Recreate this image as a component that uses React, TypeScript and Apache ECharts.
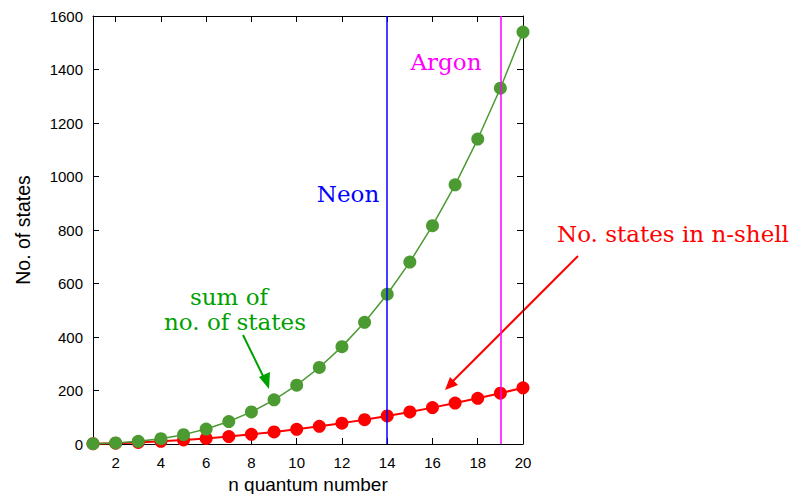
import React, { useEffect, useRef } from "react";
import * as echarts from "echarts";

const nValues = [1, 2, 3, 4, 5, 6, 7, 8, 9, 10, 11, 12, 13, 14, 15, 16, 17, 18, 19, 20];
const shellStates = [1, 3, 6, 10, 15, 21, 28, 36, 45, 55, 66, 78, 91, 105, 120, 136, 153, 171, 190, 210];
const sumStates = [1, 4, 10, 20, 35, 56, 84, 120, 165, 220, 286, 364, 455, 560, 680, 816, 969, 1140, 1330, 1540];
const xTicks = [2, 4, 6, 8, 10, 12, 14, 16, 18, 20];
const neonN = 14;
const argonN = 19;

const GREEN = "#4c9a32";
const RED = "#ff0000";
const SERIF = "'DejaVu Serif', 'Liberation Serif', serif";
const SANS = "'Liberation Sans', Arial, sans-serif";

export default function App() {
  const ref = useRef<HTMLDivElement>(null);
  useEffect(() => {
    if (!ref.current) return;
    const chart = echarts.init(ref.current, null, { renderer: "svg" });
    const xBase = {
      type: "value" as const,
      min: 1,
      max: 20,
      axisLine: { show: true, onZero: false, lineStyle: { color: "#000", width: 1 } },
      axisTick: { show: true, inside: true, length: 6, customValues: xTicks, lineStyle: { color: "#000" } },
      splitLine: { show: false },
    };
    const yBase = {
      type: "value" as const,
      min: 0,
      max: 1600,
      interval: 200,
      axisLine: { show: true, lineStyle: { color: "#000", width: 1 } },
      axisTick: { show: true, inside: true, length: 6, lineStyle: { color: "#000" } },
      splitLine: { show: false },
    };
    const txt = (text: string, x: number, y: number, fill: string) => ({
      type: "text",
      x,
      y,
      style: { text, fill, font: `23px ${SERIF}`, lineHeight: 23, textAlign: "center", textVerticalAlign: "middle" },
    });
    chart.setOption({
      animation: false,
      backgroundColor: "#fff",
      grid: { left: 93, right: 274, top: 16, bottom: 50, outerBoundsMode: "none", containLabel: false },
      xAxis: [
        {
          ...xBase,
          position: "bottom",
          name: "n quantum number",
          nameLocation: "middle",
          nameGap: 24,
          nameTextStyle: { fontFamily: SANS, fontSize: 19, lineHeight: 20, color: "#000", verticalAlign: "top" },
          axisLabel: { customValues: xTicks, fontFamily: SANS, fontSize: 15, color: "#000", margin: 11 },
        },
        { ...xBase, position: "top", axisLabel: { show: false } },
      ],
      yAxis: [
        {
          ...yBase,
          position: "left",
          name: "No. of states",
          nameLocation: "middle",
          nameGap: 60,
          nameTextStyle: { fontFamily: SANS, fontSize: 19.5, color: "#000" },
          axisLabel: { fontFamily: SANS, fontSize: 15, color: "#000", margin: 10, formatter: (v: number) => String(v) },
        },
        { ...yBase, position: "right", axisLabel: { show: false } },
      ],
      series: [
        {
          type: "line",
          data: nValues.map((n, i) => [n, shellStates[i]]),
          symbol: "circle",
          symbolSize: 13,
          lineStyle: { color: RED, width: 2 },
          itemStyle: { color: RED },
          z: 2,
        },
        {
          type: "line",
          data: nValues.map((n, i) => [n, sumStates[i]]),
          symbol: "circle",
          symbolSize: 13,
          lineStyle: { color: GREEN, width: 1.5 },
          itemStyle: { color: GREEN },
          z: 3,
        },
        {
          type: "line",
          data: [],
          z: 5,
          markLine: {
            silent: true,
            symbol: "none",
            label: { show: false },
            data: [
              { xAxis: neonN, lineStyle: { color: "#0000ff", width: 1.5, type: "solid" } },
              { xAxis: argonN, lineStyle: { color: "#ff00ff", width: 1.5, type: "solid" } },
            ],
          },
        },
      ],
      graphic: [
        txt("Neon", 348, 194, "#0000ff"),
        txt("Argon", 446, 62, "#ff00ff"),
        txt("sum of", 229, 297, "#00a000"),
        txt("no. of states", 235, 322, "#00a000"),
        txt("No. states in n-shell", 673, 234, RED),
        { type: "line", shape: { x1: 243, y1: 335, x2: 265, y2: 380 }, style: { stroke: "#00a000", lineWidth: 2 } },
        { type: "polygon", shape: { points: [[269, 389], [259, 377], [270, 372]] }, style: { fill: "#00a000" } },
        { type: "line", shape: { x1: 578, y1: 256, x2: 452, y2: 382 }, style: { stroke: RED, lineWidth: 2 } },
        { type: "polygon", shape: { points: [[445, 390], [450, 377], [458, 385]] }, style: { fill: RED } },
      ],
    });
    return () => chart.dispose();
  }, []);
  return <div ref={ref} style={{ width: 797, height: 494, position: "absolute", left: 0, top: 0 }} />;
}
